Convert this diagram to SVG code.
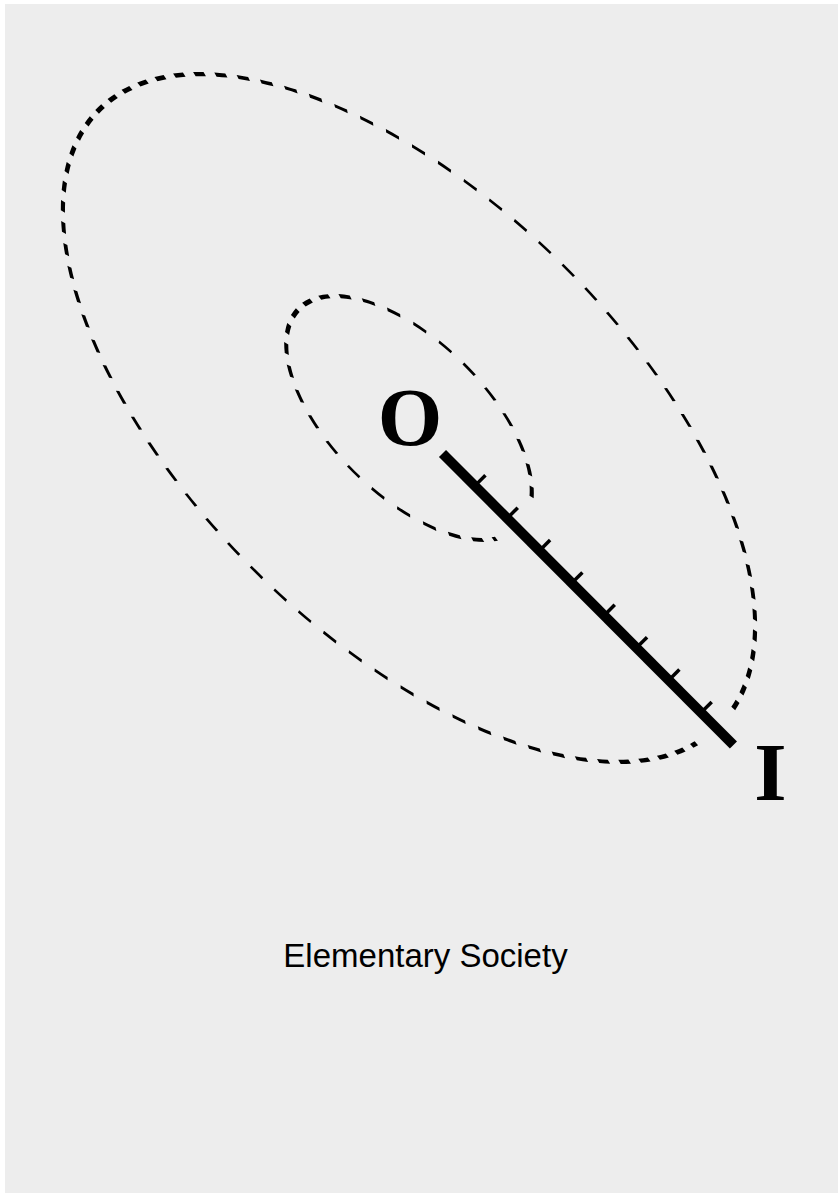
<svg xmlns="http://www.w3.org/2000/svg" width="838" height="1193" viewBox="0 0 838 1193">
  <style>
    .dash { fill: none; stroke: #000; stroke-width: 2.6; stroke-dasharray: 8.2 8.2; stroke-linecap: butt; }
    .axis { stroke: #000; stroke-linecap: butt; }
    .lbl { font-family: "Liberation Serif", "Times New Roman", serif; font-weight: bold; font-size: 83px; fill: #000; }
    .cap { font-family: "Liberation Sans", Arial, sans-serif; font-size: 33px; fill: #000; }
  </style>
  <rect x="0" y="0" width="838" height="1193" fill="#ffffff"/>
  <rect x="5" y="4" width="833" height="1189" fill="#ededed"/>

  <g id="orbits" transform="translate(409,418) rotate(44.7) scale(2,1)">
    <path id="outer-orbit" class="dash" d="M217.42,-21.55 A218.5,217 0 1 0 216.53,29.08"/>
    <path id="inner-orbit" class="dash" d="M71.34,-30.09 A77.5,77 0 1 0 73.54,24.31"/>
  </g>

  <g id="connectors" transform="translate(442.5,453.5) rotate(45.05)">
    <line class="axis" x1="0" y1="0" x2="411.8" y2="0" stroke-width="10"/>
    <g class="axis" stroke-width="3.5">
      <line x1="45.76" y1="0" x2="45.76" y2="-15"/>
      <line x1="91.51" y1="0" x2="91.51" y2="-15"/>
      <line x1="137.27" y1="0" x2="137.27" y2="-15"/>
      <line x1="183.02" y1="0" x2="183.02" y2="-15"/>
      <line x1="228.78" y1="0" x2="228.78" y2="-15"/>
      <line x1="274.53" y1="0" x2="274.53" y2="-15"/>
      <line x1="320.29" y1="0" x2="320.29" y2="-15"/>
      <line x1="366.04" y1="0" x2="366.04" y2="-15"/>
    </g>
  </g>

  <g id="node-O">
    <text class="lbl" x="410" y="445" text-anchor="middle">O</text>
  </g>
  <g id="node-I">
    <text class="lbl" x="770.5" y="800" text-anchor="middle">I</text>
  </g>
  <g id="caption">
    <text class="cap" x="425.5" y="967" text-anchor="middle">Elementary Society</text>
  </g>
</svg>
